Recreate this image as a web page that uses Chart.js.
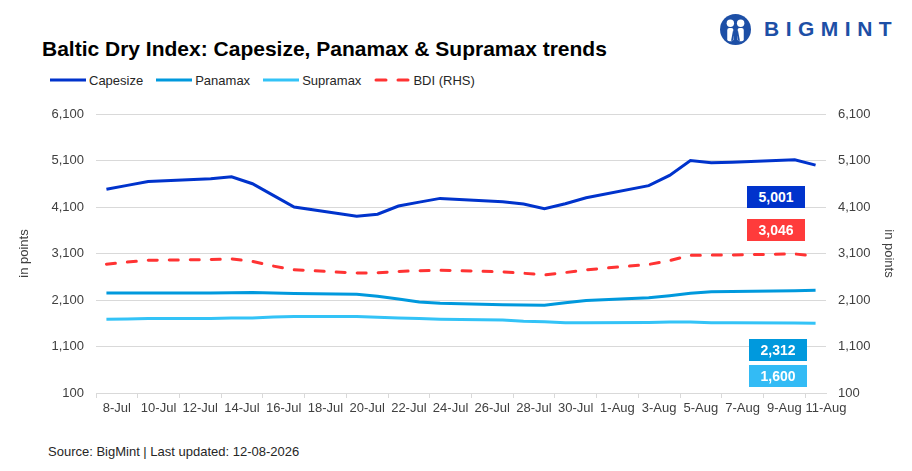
<!DOCTYPE html>
<html>
<head>
<meta charset="utf-8">
<script src="https://cdn.jsdelivr.net/npm/chart.js@4.4.1/dist/chart.umd.min.js"></script>
<style>
  html, body { margin: 0; padding: 0; background: #fff; }
  body { width: 912px; height: 471px; position: relative; overflow: hidden;
         font-family: 'Liberation Sans', Arial, sans-serif; color: #000; }
  #title { position: absolute; left: 42px; top: 38px; font-size: 21px; font-weight: bold; line-height: 1; }
  #legend { position: absolute; left: 50px; top: 72px; height: 16px; display: flex; align-items: center;
            font-size: 13px; color: #262626; }
  #legend .item { display: flex; align-items: center; margin-right: 13px; }
  #legend svg { margin-right: 3px; }
  #logo { position: absolute; left: 719px; top: 13px; height: 32px; display: flex; align-items: center; }
  #logo span { font-size: 21px; font-weight: bold; letter-spacing: 6.5px; color: #1d4fa6; margin-left: 12px; }
  #source { position: absolute; left: 48px; top: 444px; font-size: 13px; color: #262626; }
  #wrap { position: absolute; left: 0; top: 100px; width: 912px; height: 330px; }
  .tag { position: absolute; width: 58px; height: 22px; line-height: 22px; text-align: center;
         color: #fff; font-weight: bold; font-size: 14px; }
</style>
</head>
<body>
<div id="title">Baltic Dry Index: Capesize, Panamax &amp; Supramax trends</div>
<div id="legend"></div>
<div id="logo">
  <svg width="33" height="33" viewBox="0 0 32 32">
    <circle cx="16" cy="16" r="15" fill="#1d4fa6"/>
    <circle cx="11" cy="10" r="3.6" fill="#fff"/>
    <circle cx="21" cy="10" r="3.6" fill="#fff"/>
    <rect x="8" y="14.5" width="6" height="13" rx="2" fill="#fff"/>
    <rect x="18" y="14.5" width="6" height="13" rx="2" fill="#fff"/>
    <path d="M12.5 27 L14 19 L16 24 L18 19 L19.5 27" stroke="#1d4fa6" stroke-width="1.6" fill="none"/>
  </svg>
  <span>BIGMINT</span>
</div>
<div id="wrap"><canvas id="bdiChart"></canvas></div>
<div id="source">Source: BigMint | Last updated: 12-08-2026</div>

<div class="tag" id="tagCape" style="left:747px; top:186px; background:#0033cc;"></div>
<div class="tag" id="tagBdi" style="left:747px; top:219px; background:#ff3b3b;"></div>
<div class="tag" id="tagPana" style="left:749px; top:339px; background:#0099dd;"></div>
<div class="tag" id="tagSupra" style="left:749px; top:365px; background:#33bbf5;"></div>

<script>
// trading days shown on the chart
var dates = ['2026-07-08','2026-07-09','2026-07-10','2026-07-13','2026-07-14','2026-07-15','2026-07-16','2026-07-17',
             '2026-07-20','2026-07-21','2026-07-22','2026-07-23','2026-07-24','2026-07-27','2026-07-28','2026-07-29',
             '2026-07-30','2026-07-31','2026-08-03','2026-08-04','2026-08-05','2026-08-06','2026-08-07','2026-08-10',
             '2026-08-11'];

var capesize = [4480,4565,4650,4705,4750,4600,4350,4100,3900,3945,4120,4205,4285,4215,4165,4065,4170,4300,4560,4780,5100,5050,5060,5115,5001];
var panamax  = [2250,2250,2250,2252,2255,2262,2252,2240,2222,2180,2120,2057,2030,2000,1990,1985,2043,2090,2150,2193,2243,2278,2285,2300,2312];
var supramax = [1687,1693,1700,1700,1712,1715,1735,1743,1743,1730,1715,1700,1688,1672,1645,1630,1612,1612,1618,1628,1625,1612,1610,1605,1600];
var bdi      = [2870,2915,2955,2970,2985,2930,2830,2750,2680,2685,2715,2730,2740,2705,2675,2640,2690,2750,2865,2945,3065,3065,3070,3090,3046];

// labels every second calendar day, first one on 8-Jul
var tickLabels = ['8-Jul','10-Jul','12-Jul','14-Jul','16-Jul','18-Jul','20-Jul','22-Jul','24-Jul',
                  '26-Jul','28-Jul','30-Jul','1-Aug','3-Aug','5-Aug','7-Aug','9-Aug','11-Aug'];

var startDay = Date.parse('2026-07-08');
var nDays = 35;

function toPoints(vals) {
  return vals.map(function(v, i) {
    var day = Math.round((Date.parse(dates[i]) - startDay) / 864e5);
    return { x: day + 0.5, y: v };
  });
}

var greyLine = '#d9d9d9';
var tickFont = { family: "'Liberation Sans', Arial, sans-serif", size: 13 };

// fixed axis width so the plot area lines up with the original
function fixWidth(w) {
  return function(scale) {
    scale.width = w;
    scale.paddingTop = 4;
    scale.paddingBottom = 4;
  };
}

var chart = new Chart(document.getElementById('bdiChart'), {
  type: 'line',
  data: {
    datasets: [
      { label: 'Capesize', data: toPoints(capesize), borderColor: '#0033cc', borderWidth: 3, yAxisID: 'y' },
      { label: 'Panamax', data: toPoints(panamax), borderColor: '#0099dd', borderWidth: 3, yAxisID: 'y' },
      { label: 'Supramax', data: toPoints(supramax), borderColor: '#33c3f7', borderWidth: 3, yAxisID: 'y' },
      { label: 'BDI (RHS)', data: toPoints(bdi), borderColor: '#ff3333', borderWidth: 3, borderDash: [9, 12],
        borderCapStyle: 'round', yAxisID: 'y2' }
    ]
  },
  options: {
    responsive: true,
    maintainAspectRatio: false,
    animation: false,
    layout: { padding: { top: 14, left: 0, right: 0, bottom: 0 } },
    elements: { point: { radius: 0 }, line: { tension: 0 } },
    plugins: { legend: { display: false }, tooltip: { enabled: false } },
    scales: {
      x: {
        type: 'linear', min: 0, max: nDays,
        afterFit: function(scale) { scale.height = 37; },
        grid: {
          drawOnChartArea: false, drawTicks: true, tickLength: 5,
          tickColor: function(ctx) { return ctx.tick && ctx.tick.value % 2 === 0 ? greyLine : 'rgba(0,0,0,0)'; }
        },
        border: { display: true, color: greyLine },
        ticks: {
          stepSize: 1, autoSkip: false, maxRotation: 0, padding: 3, color: '#404040', font: tickFont,
          callback: function(v) { return v % 2 === 1 ? tickLabels[(v - 1) / 2] : ''; }
        }
      },
      y: {
        position: 'left', min: 100, max: 6100,
        afterFit: fixWidth(96),
        grid: { color: greyLine, drawTicks: false },
        border: { display: false },
        ticks: { stepSize: 1000, padding: 12, color: '#404040', font: tickFont,
                 callback: function(v) { return v.toLocaleString('en-US'); } },
        title: { display: true, text: 'in points', color: '#404040', font: tickFont, padding: { top: 17, bottom: 0 } }
      },
      y2: {
        position: 'right', min: 100, max: 6100,
        afterFit: fixWidth(86),
        grid: { drawOnChartArea: false, drawTicks: false },
        border: { display: false },
        ticks: { stepSize: 1000, padding: 12, color: '#404040', font: tickFont,
                 callback: function(v) { return v.toLocaleString('en-US'); } },
        title: { display: true, text: 'in points', color: '#404040', font: tickFont, padding: { top: 16, bottom: 0 } }
      }
    }
  }
});

// html legend from the datasets
var legendBox = document.getElementById('legend');
chart.data.datasets.forEach(function(ds) {
  var item = document.createElement('div');
  item.className = 'item';
  var dash = ds.borderDash ? ' stroke-dasharray="10 12" stroke-linecap="round"' : '';
  item.innerHTML = '<svg width="36" height="6"><line x1="' + (ds.borderDash ? 2 : 0) + '" y1="3" x2="36" y2="3" stroke="' +
    ds.borderColor + '" stroke-width="3"' + dash + '/></svg><span>' + ds.label + '</span>';
  legendBox.appendChild(item);
});

// latest value tags
function last(a) { return a[a.length - 1].toLocaleString('en-US'); }
document.getElementById('tagCape').textContent = last(capesize);
document.getElementById('tagBdi').textContent = last(bdi);
document.getElementById('tagPana').textContent = last(panamax);
document.getElementById('tagSupra').textContent = last(supramax);
</script>
</body>
</html>
